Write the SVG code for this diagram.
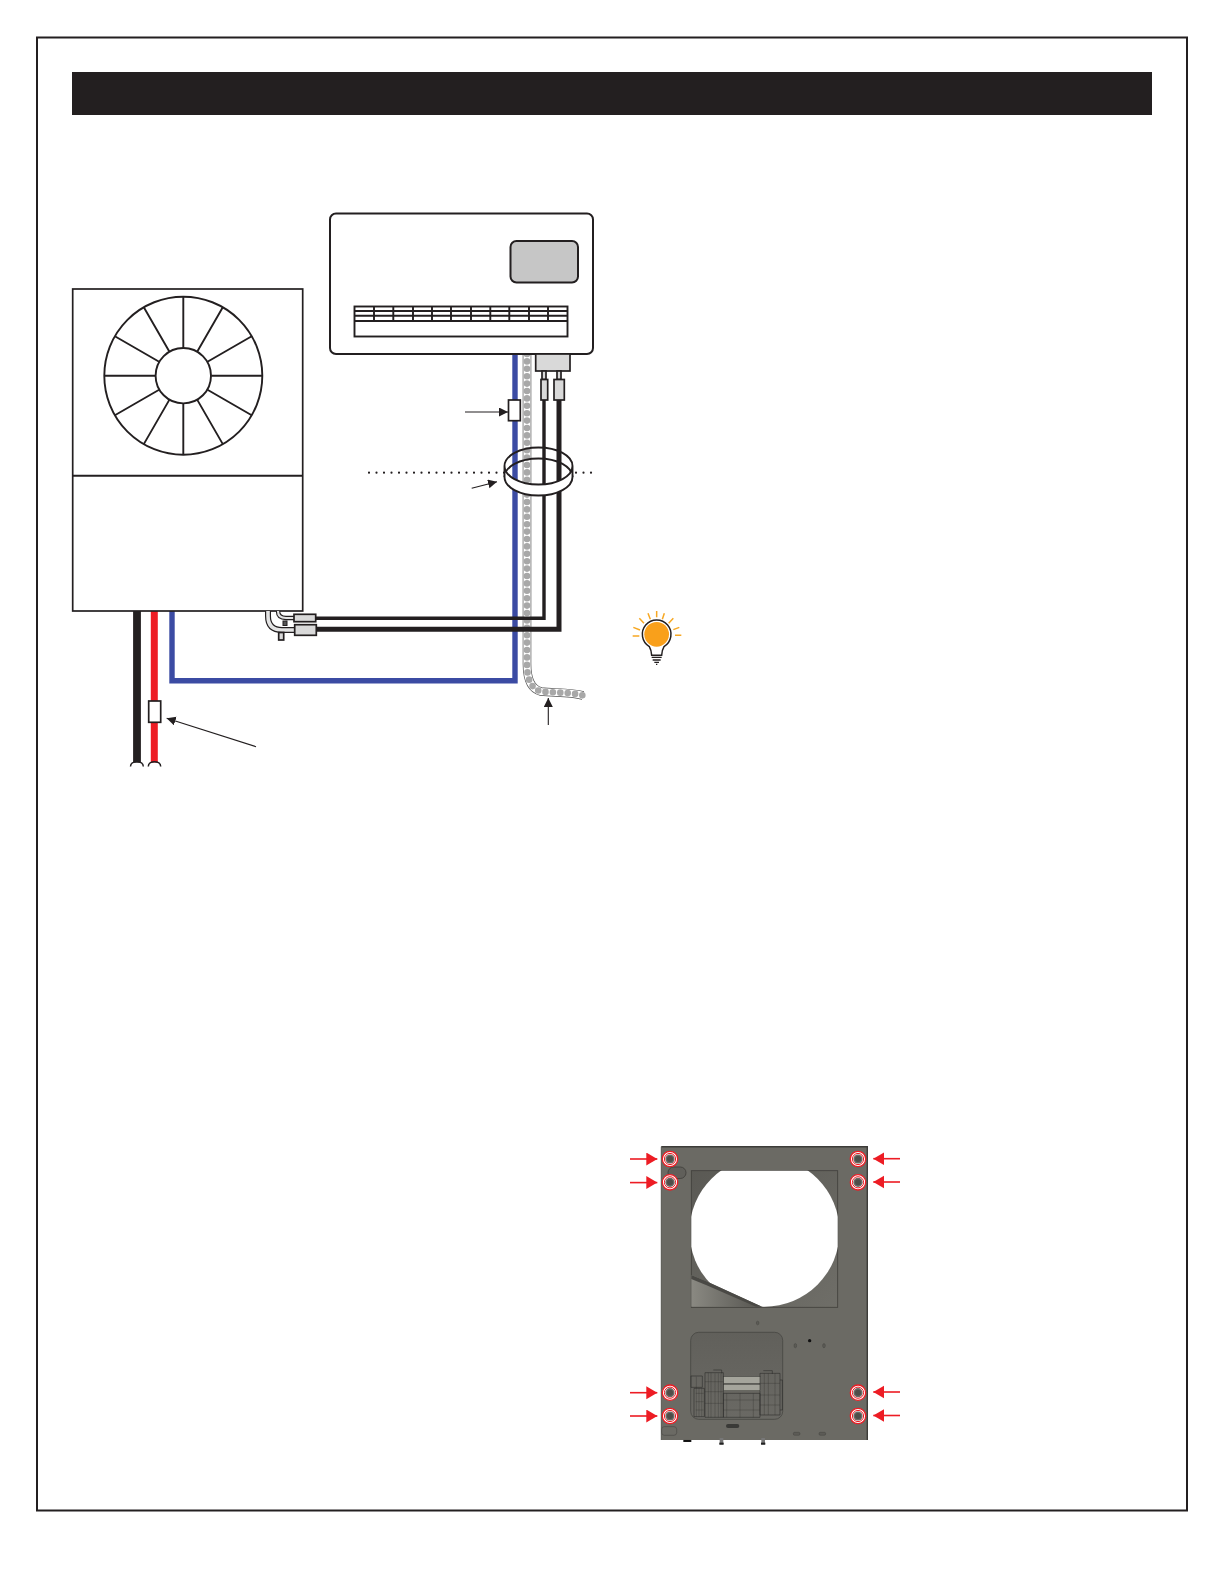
<svg xmlns="http://www.w3.org/2000/svg" width="1224" height="1584" viewBox="0 0 1224 1584">
<style>
.ln{fill:none;stroke:#231f20;stroke-width:1.9}
.fn{fill:#fff;stroke:#231f20;stroke-width:1.7}
.ctr{fill:#d9d9d9;stroke:#231f20;stroke-width:1.7}
.call{fill:none;stroke:#231f20;stroke-width:1.1;marker-end:url(#ah)}
.red{fill:none;stroke:#ed1c24;stroke-width:1.6;marker-end:url(#rh)}
.hole{fill:#5c5b56;stroke:#2e2e2b;stroke-width:.8}
.m{fill:none;stroke:#2a2a28;stroke-width:2;opacity:.85}
.mt{fill:none;stroke:#2a2a28;stroke-width:1.2;opacity:.7}
.ml{fill:#a5a59c;stroke:#3a3a37;stroke-width:1.4}
</style>
<defs>
<marker id="ah" markerUnits="userSpaceOnUse" markerWidth="10" markerHeight="10" refX="9" refY="4.5" orient="auto"><path d="M0 0L9 4.5L0 9Z" fill="#231f20"/></marker>
<marker id="rh" markerUnits="userSpaceOnUse" markerWidth="12" markerHeight="14" refX="11" refY="6.5" orient="auto"><path d="M0 0L11 6.5L0 13Z" fill="#ed1c24"/></marker>
<linearGradient id="win" x1="0" y1="0" x2="1" y2="1"><stop offset="0" stop-color="#5a5954"/><stop offset="1" stop-color="#6f6e68"/></linearGradient>
<linearGradient id="acc" x1="0" y1="0" x2="0" y2="1"><stop offset="0" stop-color="#61605b"/><stop offset="1" stop-color="#6a6964"/></linearGradient>
<linearGradient id="wed" x1="0" y1="0" x2="1" y2="0"><stop offset="0" stop-color="#8a8982"/><stop offset="1" stop-color="#55544f"/></linearGradient>
<clipPath id="wc"><rect x="691.3" y="1170.7" width="146.4" height="136.6"/></clipPath>
<g id="screw"><circle r="7.7" fill="#fff" stroke="#ed1c24" stroke-width="1.3"/><circle r="5.6" fill="#fff" stroke="#ed1c24" stroke-width="1"/><circle r="4.6" fill="#6a6964"/><circle r="3" fill="#4e4d49"/></g>
</defs>
<rect width="1224" height="1584" fill="#fff"/>
<rect id="frame" x="37" y="37.5" width="1150" height="1473" fill="none" stroke="#231f20" stroke-width="2"/>
<rect id="header" x="72" y="72" width="1080" height="43" fill="#231f20"/>

<g id="connectors">
<path d="M172 611V680.7H515V354" fill="none" stroke="#3b4ba3" stroke-width="5.4"/>
<path d="M527 354V664Q527 688 541 691.5C555 693 570 692 583 695.5" fill="none" stroke="#555" stroke-width="8.6"/>
<path d="M527 354V664Q527 688 541 691.5C555 693 570 692 583 695.5" fill="none" stroke="#fff" stroke-width="7.2"/>
<path d="M527 354V664Q527 688 541 691.5C555 693 570 692 583 695.5" fill="none" stroke="#a8a8a8" stroke-width="6.6" stroke-linecap="round" stroke-dasharray="0 7.4"/>
<path d="M544 400V618.3H315" fill="none" stroke="#231f20" stroke-width="3.4"/>
<path d="M559 400V629.3H316" fill="none" stroke="#231f20" stroke-width="5"/>
<path d="M137 611V762.5" fill="none" stroke="#231f20" stroke-width="7.8"/>
<path d="M154.3 611V762.5" fill="none" stroke="#ed1c24" stroke-width="7"/>
<path d="M130.5 766.5C130.5 760 143.3 760 143.3 766.5M148.3 766.5C148.3 760 160.7 760 160.7 766.5" fill="none" stroke="#231f20" stroke-width="1.5"/>
</g>

<g id="outdoor-unit">
<rect x="72.7" y="289" width="230" height="322" fill="#fff" stroke="#231f20" stroke-width="1.7"/>
<path class="ln" d="M72.7 475.7H302.7"/>
<circle class="ln" cx="183.3" cy="375.7" r="79"/>
<path class="ln" d="M183.3 347.7V296.7M197.3 351.5L222.8 307.3M207.5 361.7L251.7 336.2M211.3 375.7H262.3M207.5 389.7L251.7 415.2M197.3 399.9L222.8 444.1M183.3 403.7V454.7M169.3 399.9L143.8 444.1M159.1 389.7L114.9 415.2M155.3 375.7H104.3M159.1 361.7L114.9 336.2M169.3 351.5L143.8 307.3"/>
<circle class="ln" cx="183.3" cy="375.7" r="27.7"/>
</g>

<g id="indoor-unit">
<rect x="330" y="213.5" width="263" height="140.5" rx="6" fill="#fff" stroke="#231f20" stroke-width="2"/>
<rect x="510.5" y="241" width="67.5" height="41.5" rx="6" fill="#c6c6c6" stroke="#231f20" stroke-width="2"/>
<rect x="354.5" y="306.5" width="213" height="30" class="ln"/>
<path class="ln" d="M354.5 311H567.5M354.5 315.7H567.5M354.5 321H567.5M374 306.5V321M393.3 306.5V321M413 306.5V321M432 306.5V321M451 306.5V321M471 306.5V321M490.3 306.5V321M509.3 306.5V321M529 306.5V321M548 306.5V321"/>
</g>

<g id="indoor-connector">
<rect class="ctr" x="535.7" y="354" width="34.3" height="17"/>
<rect class="ctr" x="542" y="371" width="4" height="8.5"/>
<rect class="ctr" x="557" y="371" width="4" height="8.5"/>
<rect class="ctr" x="541" y="379.5" width="6.7" height="20.5"/>
<rect class="ctr" x="554" y="379.5" width="10.3" height="20.5"/>
</g>

<g id="filter-blue"><rect class="fn" x="508.5" y="400" width="11.8" height="20.7"/></g>
<g id="filter-red"><rect class="fn" x="148.7" y="701" width="12" height="21.3"/></g>

<g id="outdoor-connector">
<path d="M268 611V616Q268 630 282 630H295" fill="none" stroke="#231f20" stroke-width="6"/>
<path d="M268 611V616Q268 630 282 630H295" fill="none" stroke="#e4e4e4" stroke-width="3.6"/>
<path d="M278 611Q278 618 286 618H295" fill="none" stroke="#231f20" stroke-width="4.4"/>
<path d="M278 611Q278 618 286 618H295" fill="none" stroke="#e4e4e4" stroke-width="2.2"/>
<rect class="ctr" x="278.7" y="632.5" width="5" height="7.5"/>
<rect x="283" y="621" width="4" height="4.5" fill="#555" stroke="#231f20" stroke-width="1"/>
<rect class="ctr" x="294" y="614.3" width="21.7" height="7.4"/>
<rect class="ctr" x="294.7" y="624.7" width="21.6" height="10.6"/>
</g>

<g id="cable-ring">
<path class="ln" d="M504.5 466A34 18.5 0 0 1 572.5 466M504.5 477A34 18.5 0 0 1 572.5 477"/>
<path d="M504.5 466V477A34 18.5 0 0 0 572.5 477V466A34 18.5 0 0 1 504.5 466Z" fill="#fff" stroke="#231f20" stroke-width="1.9"/>
</g>

<g id="dotted-level" fill="none" stroke="#231f20" stroke-width="2.2" stroke-linecap="round" stroke-dasharray="0 7.5">
<path d="M369 472.7H505"/><path d="M576 472.7H594"/>
</g>

<g id="callouts">
<path class="call" d="M465 412H508"/>
<path class="call" d="M471.7 488.3L497 481.7"/>
<path class="call" d="M256 746.7L166.7 718.3"/>
<path class="call" d="M548.3 725V698"/>
</g>

<g id="tip-bulb" transform="translate(620 600) scale(.3333)">
<path d="M110 33V52M84 40L91 58M58 55L72 70M40 82L60 90M38 108H58M133 40L127 58M160 55L146 70M178 82L160 89M165 106H184" fill="none" stroke="#f7a823" stroke-width="4.5"/>
<path d="M88 140A43 43 0 1 1 132 140Q126 150 125 166H95Q94 150 88 140Z" fill="#fff" stroke="#231f20" stroke-width="4.5"/>
<circle cx="110" cy="103" r="37" fill="#f9a01b"/>
<path d="M95 172H125M98 180H122M103 187H117M108 193H112" fill="none" stroke="#231f20" stroke-width="4"/>
</g>

<g id="panel">
<rect x="661.3" y="1146.7" width="206" height="293.3" fill="#6b6a64"/>
<path d="M661.3 1146.7H867.3V1440" fill="none" stroke="#3d3c39" stroke-width="1.4"/>
<path d="M661.3 1146.7V1440" fill="none" stroke="#56554f" stroke-width="1"/>
<rect x="668" y="1167" width="18" height="11.5" rx="5.7" fill="#605f5a" stroke="#3d3c39" stroke-width=".8"/>
<rect x="691.3" y="1170.7" width="146.4" height="136.6" fill="url(#win)" stroke="#3f3e3a" stroke-width=".8"/>
<circle cx="764.5" cy="1231.7" r="75" fill="#fff" clip-path="url(#wc)"/>
<path d="M691.3 1275L708 1282L762 1306.8H691.3Z" fill="url(#wed)"/>
<path d="M691.3 1275L708 1282L762 1306.8L756 1306.8L706 1285L691.3 1279Z" fill="#4a4945"/>
<rect x="690.7" y="1332.3" width="92" height="87" rx="8" fill="url(#acc)" stroke="#4a4945" stroke-width=".9"/>
<g id="machine" transform="translate(685 1360) scale(.3333)">
<rect x="115" y="50" width="112" height="20" class="ml"/>
<rect x="115" y="73" width="112" height="19" class="ml"/>
<path class="m" d="M18 48H52V82H18ZM27 85H58V170H27ZM60 38H115V172H60ZM85 30H110V40M115 100H225V172H115ZM225 40H285V165H225ZM235 32H262V42M285 60H292V150H285"/>
<path class="mt" d="M34 50V170M42 85V170M50 85V170M70 38V172M78 38V172M90 40V172M100 40V172M108 40V172M125 100V172M165 100V172M205 100V172M115 120H225M115 150H225M238 40V165M250 40V165M270 40V165M60 65H115M60 95H115M60 130H115M225 70H285M225 105H285M225 135H285M32 100H56M32 125H56M32 150H56"/>
</g>
<g transform="translate(620 1130) scale(.3333)">
<rect x="318" y="882" width="40" height="12" rx="6" fill="#3a3a37"/>
<rect x="125" y="890" width="45" height="26" rx="8" fill="none" stroke="#4a4945" stroke-width="2"/>
<rect x="520" y="907" width="20" height="9" rx="4" class="hole" stroke-width="2"/>
<rect x="597" y="907" width="20" height="9" rx="4" class="hole" stroke-width="2"/>
<ellipse cx="413" cy="579" rx="4" ry="5.5" class="hole" stroke-width="2"/>
<ellipse cx="526" cy="647" rx="4" ry="6.5" class="hole" stroke-width="2"/>
<ellipse cx="612" cy="647" rx="4" ry="6.5" class="hole" stroke-width="2"/>
<circle cx="569" cy="632" r="5" fill="#111"/>
<rect x="190" y="930" width="24" height="6" fill="#111"/>
<rect x="299" y="924" width="11" height="20" fill="#777"/><rect x="298" y="938" width="13" height="6" fill="#222"/>
<rect x="424" y="924" width="11" height="20" fill="#777"/><rect x="423" y="938" width="13" height="6" fill="#222"/>
</g>
<use href="#screw" x="670" y="1159"/><use href="#screw" x="670" y="1182.3"/>
<use href="#screw" x="670" y="1392.7"/><use href="#screw" x="670" y="1416"/>
<use href="#screw" x="858" y="1159"/><use href="#screw" x="858" y="1182.3"/>
<use href="#screw" x="858" y="1392.7"/><use href="#screw" x="858" y="1416"/>
</g>

<g id="panel-arrows">
<path class="red" d="M630 1159H657.3"/><path class="red" d="M630 1182.6H657.3"/>
<path class="red" d="M630 1392.7H657.3"/><path class="red" d="M630 1416H657.3"/>
<path class="red" d="M900 1158.7H873.3"/><path class="red" d="M900 1182H873.3"/>
<path class="red" d="M900 1392H873.3"/><path class="red" d="M900 1415.5H873.3"/>
</g>
</svg>
